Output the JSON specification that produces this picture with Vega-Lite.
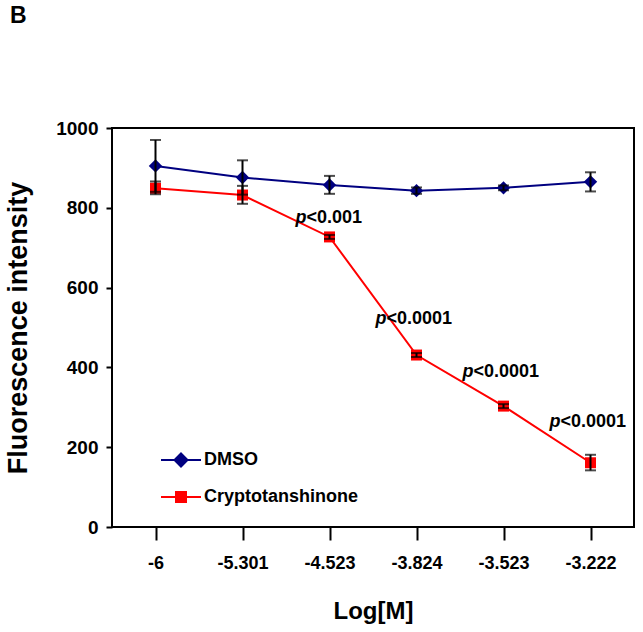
{
  "$schema": "https://vega.github.io/schema/vega-lite/v6.json",
  "autosize": {"type": "none"},
  "width": 522,
  "height": 399,
  "padding": {"left": 112, "top": 128, "right": 9, "bottom": 105},
  "background": "white",
  "config": {
    "font": "Liberation Sans",
    "view": {"stroke": "black", "strokeWidth": 2},
    "axis": {"grid": false, "domain": false, "tickColor": "black", "tickWidth": 2, "labelColor": "black", "titleColor": "black", "labelFont": "Liberation Sans", "titleFont": "Liberation Sans", "labelFontWeight": "bold", "titleFontWeight": "bold", "labelFontSize": 18, "titleFontSize": 24}
  },
  "title": {"text": "B", "anchor": "start", "frame": "group", "dx": -102, "offset": 68, "baseline": "bottom", "fontSize": 23, "fontWeight": "bold", "font": "Liberation Sans", "color": "black"},
  "data": {"values": [
    {"x": "-6", "series": "DMSO", "y": 905, "lo": 840, "hi": 970},
    {"x": "-5.301", "series": "DMSO", "y": 876, "lo": 833, "hi": 919},
    {"x": "-4.523", "series": "DMSO", "y": 857, "lo": 835, "hi": 880},
    {"x": "-3.824", "series": "DMSO", "y": 843, "lo": 835, "hi": 851},
    {"x": "-3.523", "series": "DMSO", "y": 850, "lo": 844, "hi": 856},
    {"x": "-3.222", "series": "DMSO", "y": 865, "lo": 841, "hi": 889},
    {"x": "-6", "series": "Cryptotanshinone", "y": 849, "lo": 834, "hi": 866},
    {"x": "-5.301", "series": "Cryptotanshinone", "y": 832, "lo": 810, "hi": 855},
    {"x": "-4.523", "series": "Cryptotanshinone", "y": 727, "lo": 722, "hi": 732},
    {"x": "-3.824", "series": "Cryptotanshinone", "y": 431, "lo": 426, "hi": 436},
    {"x": "-3.523", "series": "Cryptotanshinone", "y": 303, "lo": 298, "hi": 308},
    {"x": "-3.222", "series": "Cryptotanshinone", "y": 161, "lo": 142, "hi": 181}
  ]},
  "encoding": {
    "x": {"field": "x", "type": "ordinal", "sort": null, "scale": {"type": "point", "padding": 0.5},
      "axis": {"title": "Log[M]", "labelAngle": 0, "tickSize": 13, "labelPadding": 14, "titlePadding": 27}}
  },
  "layer": [
    {
      "mark": {"type": "line", "strokeWidth": 2},
      "encoding": {
        "y": {"field": "y", "type": "quantitative", "scale": {"domain": [0, 1000], "nice": false},
          "axis": {"title": "Fluorescence intensity", "values": [0, 200, 400, 600, 800, 1000], "format": "d", "tickSize": 6, "labelPadding": 8, "labelFontSize": 19, "titleFontSize": 27, "titlePadding": 23}},
        "color": {"field": "series", "type": "nominal",
          "scale": {"domain": ["DMSO", "Cryptotanshinone"], "range": ["#000080", "#ff0000"]},
          "legend": {"title": null, "orient": "none", "legendX": 58, "legendY": 321, "padding": 0,
            "symbolSize": 400, "symbolStrokeWidth": 2, "labelOffset": 12, "rowPadding": 15,
            "labelFontSize": 18, "labelFontWeight": "bold", "labelColor": "black", "labelFont": "Liberation Sans",
            "encode": {"symbols": {"update": {
              "shape": {"signal": "datum.value === 'DMSO' ? 'M-2,0H2M0,-0.65L0.65,0L0,0.65L-0.65,0Z' : 'M-2,0H2M-0.5,-0.5H0.5V0.5H-0.5Z'"},
              "fill": {"signal": "datum.value === 'DMSO' ? '#000080' : '#ff0000'"},
              "stroke": {"signal": "datum.value === 'DMSO' ? '#000080' : '#ff0000'"},
              "strokeWidth": {"value": 2},
              "strokeOpacity": {"value": 1},
              "fillOpacity": {"value": 1},
              "opacity": {"value": 1}
            }}}}}
      }
    },
    {
      "transform": [{"filter": "datum.series === 'DMSO'"}],
      "mark": {"type": "point", "shape": "diamond", "size": 180, "filled": true, "opacity": 1, "color": "#000080"},
      "encoding": {"y": {"field": "y", "type": "quantitative"}}
    },
    {
      "transform": [{"filter": "datum.series === 'Cryptotanshinone'"}],
      "mark": {"type": "point", "shape": "square", "size": 121, "filled": true, "opacity": 1, "color": "#ff0000"},
      "encoding": {"y": {"field": "y", "type": "quantitative"}}
    },
    {
      "mark": {"type": "rule", "color": "black", "strokeWidth": 2},
      "encoding": {"y": {"field": "lo", "type": "quantitative"}, "y2": {"field": "hi"}}
    },
    {
      "mark": {"type": "tick", "color": "black", "thickness": 2, "size": 11, "orient": "horizontal"},
      "encoding": {"y": {"field": "hi", "type": "quantitative"}}
    },
    {
      "mark": {"type": "tick", "color": "black", "thickness": 2, "size": 11, "orient": "horizontal"},
      "encoding": {"y": {"field": "lo", "type": "quantitative"}}
    },
    {
      "data": {"values": [
        {"x": "-4.523", "y": 762, "p": "p", "rest": "<0.001", "first": true},
        {"x": "-3.824", "y": 510, "p": "p", "rest": "<0.0001", "first": false},
        {"x": "-3.523", "y": 375, "p": "p", "rest": "<0.0001", "first": false},
        {"x": "-3.222", "y": 250, "p": "p", "rest": "<0.0001", "first": false}
      ]},
      "layer": [
        {
          "transform": [{"filter": "datum.first"}],
          "mark": {"type": "text", "align": "right", "baseline": "alphabetic", "dx": -23, "fontSize": 18, "fontWeight": "bold", "fontStyle": "italic", "font": "Liberation Sans", "color": "black"},
          "encoding": {"y": {"field": "y", "type": "quantitative"}, "text": {"field": "p"}}
        },
        {
          "transform": [{"filter": "datum.first"}],
          "mark": {"type": "text", "align": "left", "baseline": "alphabetic", "dx": -23, "fontSize": 18, "fontWeight": "bold", "font": "Liberation Sans", "color": "black"},
          "encoding": {"y": {"field": "y", "type": "quantitative"}, "text": {"field": "rest"}}
        },
        {
          "transform": [{"filter": "!datum.first"}],
          "mark": {"type": "text", "align": "right", "baseline": "alphabetic", "dx": -30, "fontSize": 18, "fontWeight": "bold", "fontStyle": "italic", "font": "Liberation Sans", "color": "black"},
          "encoding": {"y": {"field": "y", "type": "quantitative"}, "text": {"field": "p"}}
        },
        {
          "transform": [{"filter": "!datum.first"}],
          "mark": {"type": "text", "align": "left", "baseline": "alphabetic", "dx": -30, "fontSize": 18, "fontWeight": "bold", "font": "Liberation Sans", "color": "black"},
          "encoding": {"y": {"field": "y", "type": "quantitative"}, "text": {"field": "rest"}}
        }
      ]
    }
  ]
}
